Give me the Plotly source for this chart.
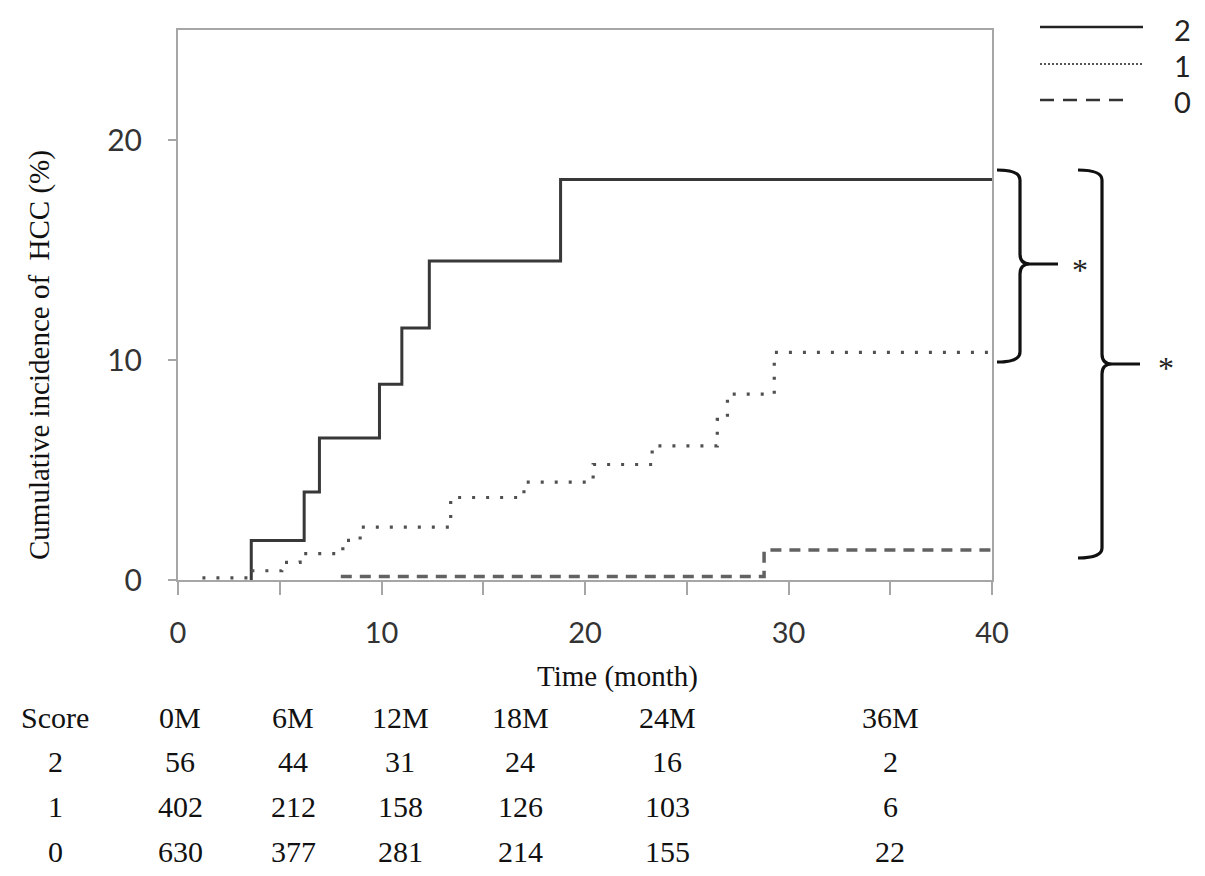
import plotly.graph_objects as go

# ---------------- data ----------------
# step curves (time in months, cumulative incidence in %)
score2_t = [3.6, 3.6, 6.2, 6.95, 9.9, 11.0, 12.35, 18.8, 40]
score2_y = [0.0, 1.8, 4.0, 6.45, 8.9, 11.45, 14.5, 18.2, 18.2]

score1_t = [1.2, 3.6, 5.1, 6.0, 8.1, 8.95, 13.4, 17.0, 20.4, 23.3, 26.5, 27.0, 29.3, 40]
score1_y = [0.1, 0.42, 0.8, 1.2, 1.8, 2.4, 3.75, 4.45, 5.25, 6.1, 7.3, 8.45, 10.35, 10.35]

score0_t = [8.0, 28.8, 40]
score0_y = [0.16, 1.36, 1.36]

x_tick_vals = [0, 5, 10, 15, 20, 25, 30, 35, 40]
x_tick_text = ["0", "", "10", "", "20", "", "30", "", "40"]
y_tick_vals = [0, 10, 20]

legend_labels = ["2", "1", "0"]

table_header = ["Score", "0M", "6M", "12M", "18M", "24M", "36M"]
risk_score2 = ["2", 56, 44, 31, 24, 16, 2]
risk_score1 = ["1", 402, 212, 158, 126, 103, 6]
risk_score0 = ["0", 630, 377, 281, 214, 155, 22]

# ---------------- layout helpers ----------------
W, H = 1205, 876
L, R, T, B = 178, 992, 30, 580  # plot area in pixels


def PX(px):
    return (px - L) / (R - L)


def PY(py):
    return (B - py) / (B - T)


SERIF = "Liberation Serif, Times New Roman, serif"
SANS = "Lato, Open Sans, sans-serif"

fig = go.Figure()
fig.add_trace(go.Scatter(x=score2_t, y=score2_y, mode="lines", line_shape="hv",
                         line=dict(color="#383838", width=3), name="2"))
fig.add_trace(go.Scatter(x=score1_t, y=score1_y, mode="lines", line_shape="hv",
                         line=dict(color="#505050", width=3.2, dash="3px,11px"), name="1"))
fig.add_trace(go.Scatter(x=score0_t, y=score0_y, mode="lines", line_shape="hv",
                         line=dict(color="#626262", width=3.5, dash="11px,8px"), name="0"))

shapes = []
annotations = []

# legend (manual, long line samples)
leg_rows = [(27, dict(color="#222222", width=2.5)),
            (64, dict(color="#555555", width=2, dash="2px,2px")),
            (100, dict(color="#333333", width=2.5, dash="14px,9px"))]
leg_ends = [1143, 1143, 1130]
for (py, ln), lab, xe in zip(leg_rows, legend_labels, leg_ends):
    shapes.append(dict(type="line", xref="paper", yref="paper",
                       x0=PX(1040), x1=PX(xe), y0=PY(py), y1=PY(py), line=ln))
    annotations.append(dict(text=lab, xref="paper", yref="paper", x=PX(1182), y=PY(py + 2),
                            showarrow=False, xanchor="center", yanchor="middle",
                            font=dict(family=SANS, size=29, color="#222222")))


def brace(x0, x1, xtip, ytop, ybot, ymid):
    r = 10
    pts = [
        ("M", [(x0, ytop)]),
        ("Q", [(x1, ytop), (x1, ytop + r)]),
        ("L", [(x1, ymid - r)]),
        ("Q", [(x1, ymid), (x1 + r, ymid)]),
        ("L", [(xtip, ymid)]),
        ("M", [(x1 + r, ymid)]),
        ("Q", [(x1, ymid), (x1, ymid + r)]),
        ("L", [(x1, ybot - r)]),
        ("Q", [(x1, ybot), (x0, ybot)]),
    ]
    s = ""
    for cmd, ps in pts:
        s += cmd + " " + " ".join(f"{PX(a):.5f},{PY(b):.5f}" for a, b in ps) + " "
    return s.strip()


shapes.append(dict(type="path", xref="paper", yref="paper",
                   path=brace(997, 1020, 1058, 170, 362, 264),
                   line=dict(color="#111111", width=3.2)))
shapes.append(dict(type="path", xref="paper", yref="paper",
                   path=brace(1078, 1102, 1140, 170, 558, 364),
                   line=dict(color="#111111", width=3.2)))
for ax_, ay_ in [(1080, 270), (1166, 368)]:
    annotations.append(dict(text="*", xref="paper", yref="paper", x=PX(ax_), y=PY(ay_),
                            showarrow=False, xanchor="center", yanchor="middle",
                            font=dict(family=SERIF, size=32, color="#222222")))

# axis titles
annotations.append(dict(text="Time (month)", xref="paper", yref="paper", x=PX(617), y=PY(676),
                        showarrow=False, xanchor="center", yanchor="middle",
                        font=dict(family=SERIF, size=29, color="#111111")))
annotations.append(dict(text="Cumulative incidence of  HCC (%)", xref="paper", yref="paper",
                        x=PX(40), y=PY(355), textangle=-90,
                        showarrow=False, xanchor="center", yanchor="middle",
                        font=dict(family=SERIF, size=29, color="#111111")))

# number-at-risk table
col_x = [55, 180, 293, 400, 520, 667, 890]
row_y = [717, 761, 806, 851]
for row, py in zip([table_header, risk_score2, risk_score1, risk_score0], row_y):
    for val, px in zip(row, col_x):
        annotations.append(dict(text=str(val), xref="paper", yref="paper", x=PX(px), y=PY(py),
                                showarrow=False, xanchor="center", yanchor="middle",
                                font=dict(family=SERIF, size=30, color="#111111")))

axis_line = "#a6a6a6"
fig.update_layout(
    width=W, height=H,
    margin=dict(l=L, r=W - R, t=T, b=H - B, pad=0),
    paper_bgcolor="white", plot_bgcolor="white",
    showlegend=False,
    shapes=shapes, annotations=annotations,
    xaxis=dict(range=[0, 40], tickvals=x_tick_vals, ticktext=x_tick_text,
               ticks="outside", ticklen=13, tickwidth=1.5, tickcolor=axis_line,
               showline=True, linecolor=axis_line, linewidth=2, mirror=True,
               showgrid=False, zeroline=False, ticklabelstandoff=13,
               tickfont=dict(family=SANS, size=29, color="#333333")),
    yaxis=dict(range=[0, 25], tickvals=y_tick_vals,
               ticks="outside", ticklen=8, tickwidth=1.5, tickcolor=axis_line,
               showline=True, linecolor=axis_line, linewidth=2, mirror=True,
               showgrid=False, zeroline=False, ticklabelstandoff=20,
               tickfont=dict(family=SANS, size=30, color="#333333")),
)

fig.write_html("out.html", config={"displayModeBar": False},
               post_script="document.body.style.margin='0px';")
